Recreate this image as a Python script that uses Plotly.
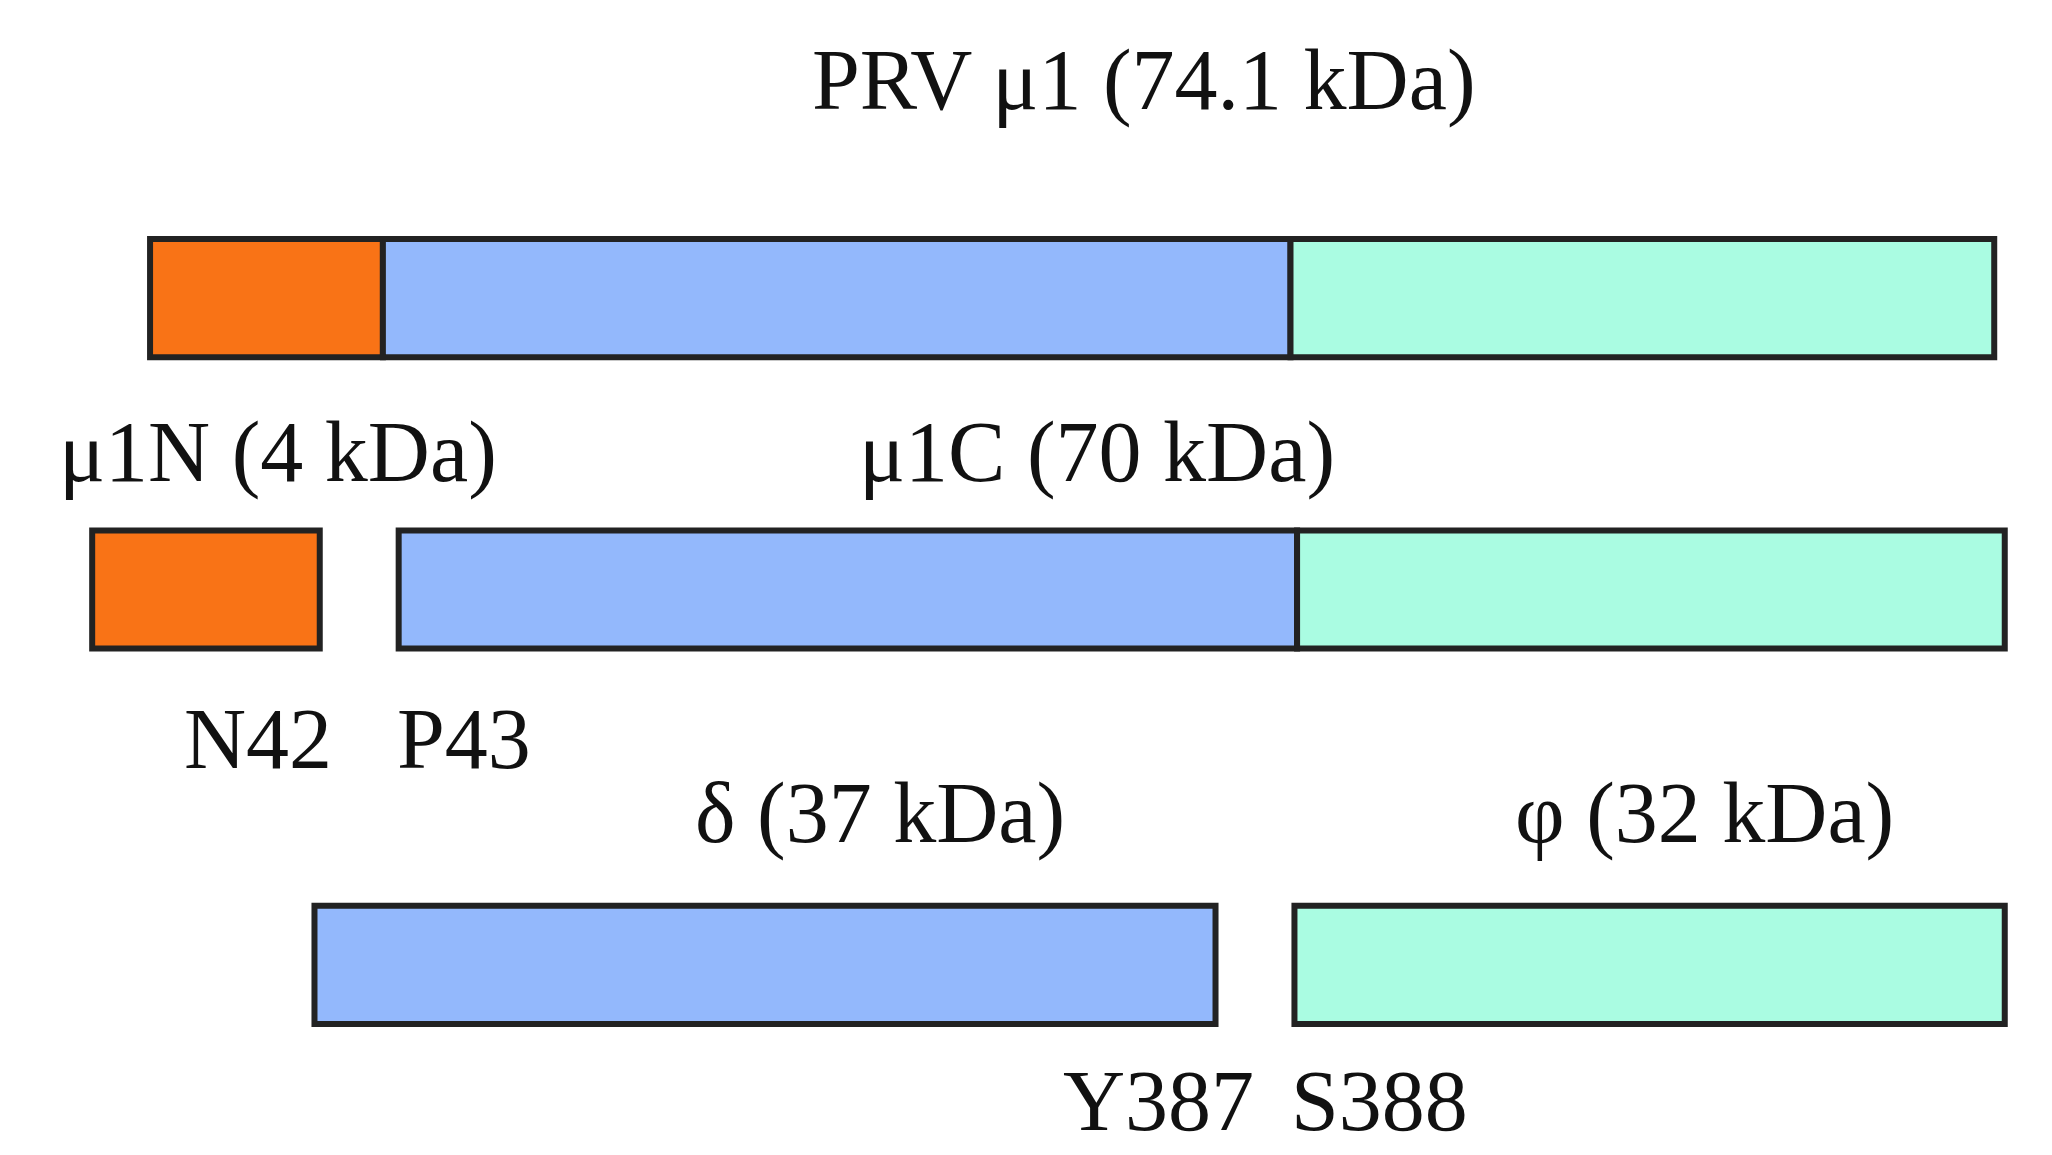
import plotly.graph_objects as go

# Layout units follow the reference picture (0..1560 wide, 0..880 tall)
seg_row = [221, 221, 221, 443, 443, 443, 729, 729]
seg_start = [108, 285, 975, 64, 297, 980, 233, 978]
seg_end = [285, 975, 1510, 237, 980, 1518, 918, 1518]
seg_color = ["#F97316", "#93B8FC", "#AAFCE2", "#F97316", "#93B8FC", "#AAFCE2", "#93B8FC", "#AAFCE2"]

labels = ["PRV μ1 (74.1 kDa)", "μ1N (4 kDa)", "μ1C (70 kDa)", "N42", "P43",
          "δ (37 kDa)", "φ (32 kDa)", "Y387", "S388"]
label_x = [864, 205, 828, 190, 347, 663, 1290, 875, 1043]
label_y = [55, 338, 338, 557, 557, 613, 613, 833, 833]

fig = go.Figure()
for r, s, e, c in zip(seg_row, seg_start, seg_end, seg_color):
    fig.add_trace(go.Bar(orientation="h", y=[r], x=[e - s], base=[s], width=90,
                         marker=dict(color=c, line=dict(color="#222222", width=6)),
                         hoverinfo="skip", showlegend=False))
for t, x, y in zip(labels, label_x, label_y):
    fig.add_annotation(x=x, y=y, text=t, showarrow=False, xanchor="center", yanchor="middle",
                       font=dict(family="Liberation Serif", size=86, color="#111111"))
fig.update_layout(width=2052, height=1155, margin=dict(l=0, r=0, t=0, b=0),
                  plot_bgcolor="white", paper_bgcolor="white", barmode="overlay",
                  xaxis=dict(range=[0, 1560], visible=False, fixedrange=True),
                  yaxis=dict(range=[880, 0], visible=False, fixedrange=True))
fig.write_html("out.html")
